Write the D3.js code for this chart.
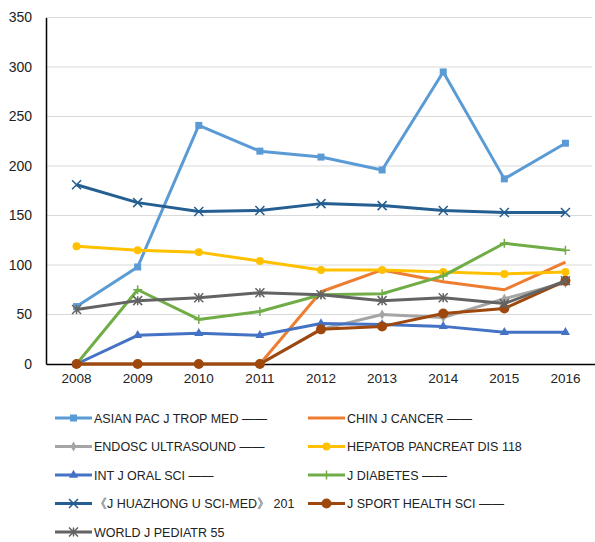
<!DOCTYPE html>
<html lang="en">
<head>
    <meta charset="UTF-8">
    <title>Journal Citations 2008-2016</title>
    <script src="https://d3js.org/d3.v7.min.js"></script>
    <style>
        body { margin: 0; background: #fff; }
        svg { display: block; font-family: "Liberation Sans", Arial, sans-serif; }
    </style>
</head>
<body>
    <svg id="chart" width="595" height="542"></svg>
    <script>
        // categories and ticks
        const years = ["2008", "2009", "2010", "2011", "2012", "2013", "2014", "2015", "2016"];
        const yTicks = [0, 50, 100, 150, 200, 250, 300, 350];

        // series values
        const asianPac    = [58, 98, 241, 215, 209, 196, 295, 187, 223];
        const chinCancer  = [0, 0, 0, 0, 73, 95, 83, 75, 103];
        const endosc      = [0, 0, 0, 0, 35, 50, 47, 66, 82];
        const hepatob     = [119, 115, 113, 104, 95, 95, 93, 91, 93];
        const intOral     = [0, 29, 31, 29, 41, 40, 38, 32, 32];
        const jDiabetes   = [0, 75, 45, 53, 70, 71, 89, 122, 115];
        const huazhong    = [181, 163, 154, 155, 162, 160, 155, 153, 153];
        const jSport      = [0, 0, 0, 0, 35, 38, 51, 56, 84];
        const worldPed    = [55, 64, 67, 72, 70, 64, 67, 61, 84];

        const series = [
            { name: "ASIAN PAC J TROP MED ——", values: asianPac, color: "#5B9BD5", marker: "square" },
            { name: "CHIN J CANCER ——", values: chinCancer, color: "#ED7D31", marker: "none" },
            { name: "ENDOSC ULTRASOUND ——", values: endosc, color: "#A5A5A5", marker: "diamond" },
            { name: "HEPATOB PANCREAT DIS 118", values: hepatob, color: "#FFC000", marker: "circle" },
            { name: "INT J ORAL SCI ——", values: intOral, color: "#4472C4", marker: "triangle" },
            { name: "J DIABETES ——", values: jDiabetes, color: "#70AD47", marker: "plus" },
            { name: "《J HUAZHONG U SCI-MED》 201", values: huazhong, color: "#255E91", marker: "x" },
            { name: "J SPORT HEALTH SCI ——", values: jSport, color: "#9E480E", marker: "bigcircle" },
            { name: "WORLD J PEDIATR 55", values: worldPed, color: "#636363", marker: "star" }
        ];

        const svg = d3.select("#chart");
        const plot = { left: 46, right: 596, top: 17.5, bottom: 364 };

        const x = d3.scaleBand().domain(years).range([plot.left, plot.right]);
        const y = d3.scaleLinear().domain([0, 350]).range([plot.bottom, plot.top]);
        const cx = d => x(d) + x.bandwidth() / 2;

        // gridlines
        svg.append("g")
            .selectAll("line")
            .data(yTicks.filter(t => t > 0))
            .join("line")
            .attr("x1", plot.left).attr("x2", 592)
            .attr("y1", d => y(d)).attr("y2", d => y(d))
            .attr("stroke", "#d9d9d9").attr("stroke-width", 1);

        // y axis
        const yAxis = svg.append("g")
            .attr("transform", `translate(${plot.left},0)`)
            .call(d3.axisLeft(y).tickValues(yTicks).tickSize(0).tickPadding(14));
        yAxis.select(".domain").attr("stroke", "#000").attr("stroke-width", 1.5);
        yAxis.selectAll("text").attr("font-size", 14).attr("fill", "#222");

        // x axis
        const xAxis = svg.append("g")
            .attr("transform", `translate(0,${plot.bottom})`)
            .call(d3.axisBottom(x).tickSize(0).tickPadding(9));
        xAxis.select(".domain").attr("stroke", "#000").attr("stroke-width", 1.5);
        xAxis.selectAll("text").attr("font-size", 13.5).attr("fill", "#222");

        function drawMarker(g, type, color, px, py) {
            if (type === "none") return;
            if (type === "square") {
                g.append("rect").attr("x", px - 3.5).attr("y", py - 3.5)
                    .attr("width", 7).attr("height", 7).attr("fill", color);
            } else if (type === "circle" || type === "bigcircle") {
                g.append("circle").attr("cx", px).attr("cy", py)
                    .attr("r", type === "circle" ? 4 : 5).attr("fill", color);
            } else if (type === "diamond") {
                g.append("path").attr("transform", `translate(${px},${py})`)
                    .attr("d", d3.symbol(d3.symbolDiamond, 30)()).attr("fill", color);
            } else if (type === "triangle") {
                g.append("path").attr("transform", `translate(${px},${py})`)
                    .attr("d", d3.symbol(d3.symbolTriangle, 36)()).attr("fill", color);
            } else {
                const s = 4.5;
                let d = "";
                if (type === "plus") d = `M${-s},0H${s}M0,${-s}V${s}`;
                if (type === "x") d = `M${-s},${-s}L${s},${s}M${-s},${s}L${s},${-s}`;
                if (type === "star") d = `M${-s},${-s}L${s},${s}M${-s},${s}L${s},${-s}M0,${-s}V${s}`;
                g.append("path").attr("transform", `translate(${px},${py})`)
                    .attr("d", d).attr("stroke", color).attr("stroke-width", 1.5).attr("fill", "none");
            }
        }

        const line = d3.line()
            .x((d, i) => cx(years[i]))
            .y(d => y(d));

        // series lines + markers
        series.forEach(s => {
            const g = svg.append("g");
            g.append("path")
                .datum(s.values)
                .attr("d", line)
                .attr("fill", "none")
                .attr("stroke", s.color)
                .attr("stroke-width", 3)
                .attr("stroke-linejoin", "round");
            s.values.forEach((v, i) => drawMarker(g, s.marker, s.color, cx(years[i]), y(v)));
        });

        // legend, two columns
        const legend = svg.append("g").attr("font-size", 12.5).attr("fill", "#222");
        series.forEach((s, i) => {
            const col = i % 2, row = Math.floor(i / 2);
            const lx = col === 0 ? 55 : 308;
            const ly = 418 + row * 28.5;
            const g = legend.append("g");
            g.append("line").attr("x1", lx).attr("x2", lx + 37)
                .attr("y1", ly).attr("y2", ly)
                .attr("stroke", s.color).attr("stroke-width", 3);
            drawMarker(g, s.marker, s.color, lx + 18.5, ly);
            g.append("text").attr("x", lx + 39).attr("y", ly + 4.5).text(s.name);
        });
    </script>
</body>
</html>
